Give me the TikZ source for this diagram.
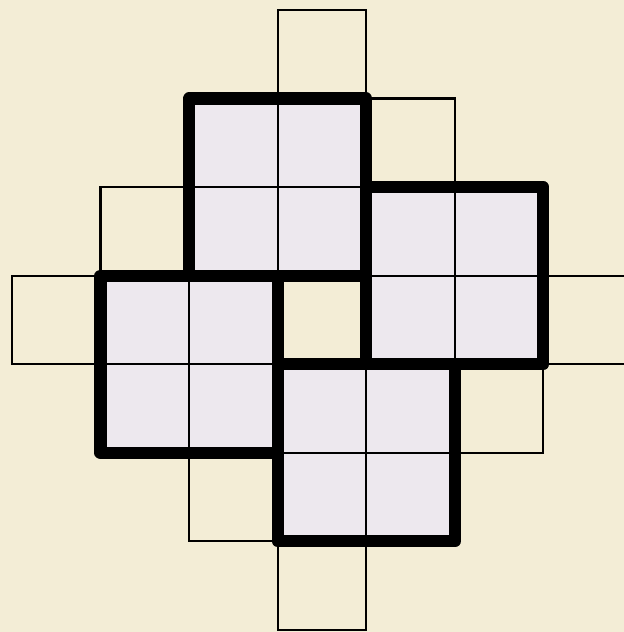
\documentclass[tikz,border=0pt]{standalone}
\usepackage{tikz}
\definecolor{paper}{RGB}{243,237,214}
\definecolor{tile}{RGB}{237,232,238}

\begin{document}
\begin{tikzpicture}[scale=1.0,
    thin cell/.style={draw=black,line width=0.7pt},
    block/.style={draw=black,line width=3.9pt,line join=round,line cap=round}]
  % background and frame
  \fill[paper] (-0.135,-0.023) rectangle (6.907,7.113);
  \useasboundingbox (-0.135,-0.023) rectangle (6.907,7.113);
  % the four 2x2 blocks, lower-left corners
  \foreach \x/\y in {2/4,4/3,1/2,3/1}
    \fill[tile] (\x,\y) rectangle ++(2,2);
  \foreach \x/\y in {2/4,4/3,1/2,3/1}
    \draw[thin cell] (\x,\y) grid[step=1] ++(2,2);
  % single cells round the blocks
  \foreach \x/\y in {3/6,4/5,1/4,0/3,6/3,5/2,2/1,3/0}
    \draw[thin cell] (\x,\y) rectangle ++(1,1);
  % thick outlines on top
  \foreach \x/\y in {2/4,4/3,1/2,3/1}
    \draw[block] (\x,\y) rectangle ++(2,2);
\end{tikzpicture}
\end{document}
